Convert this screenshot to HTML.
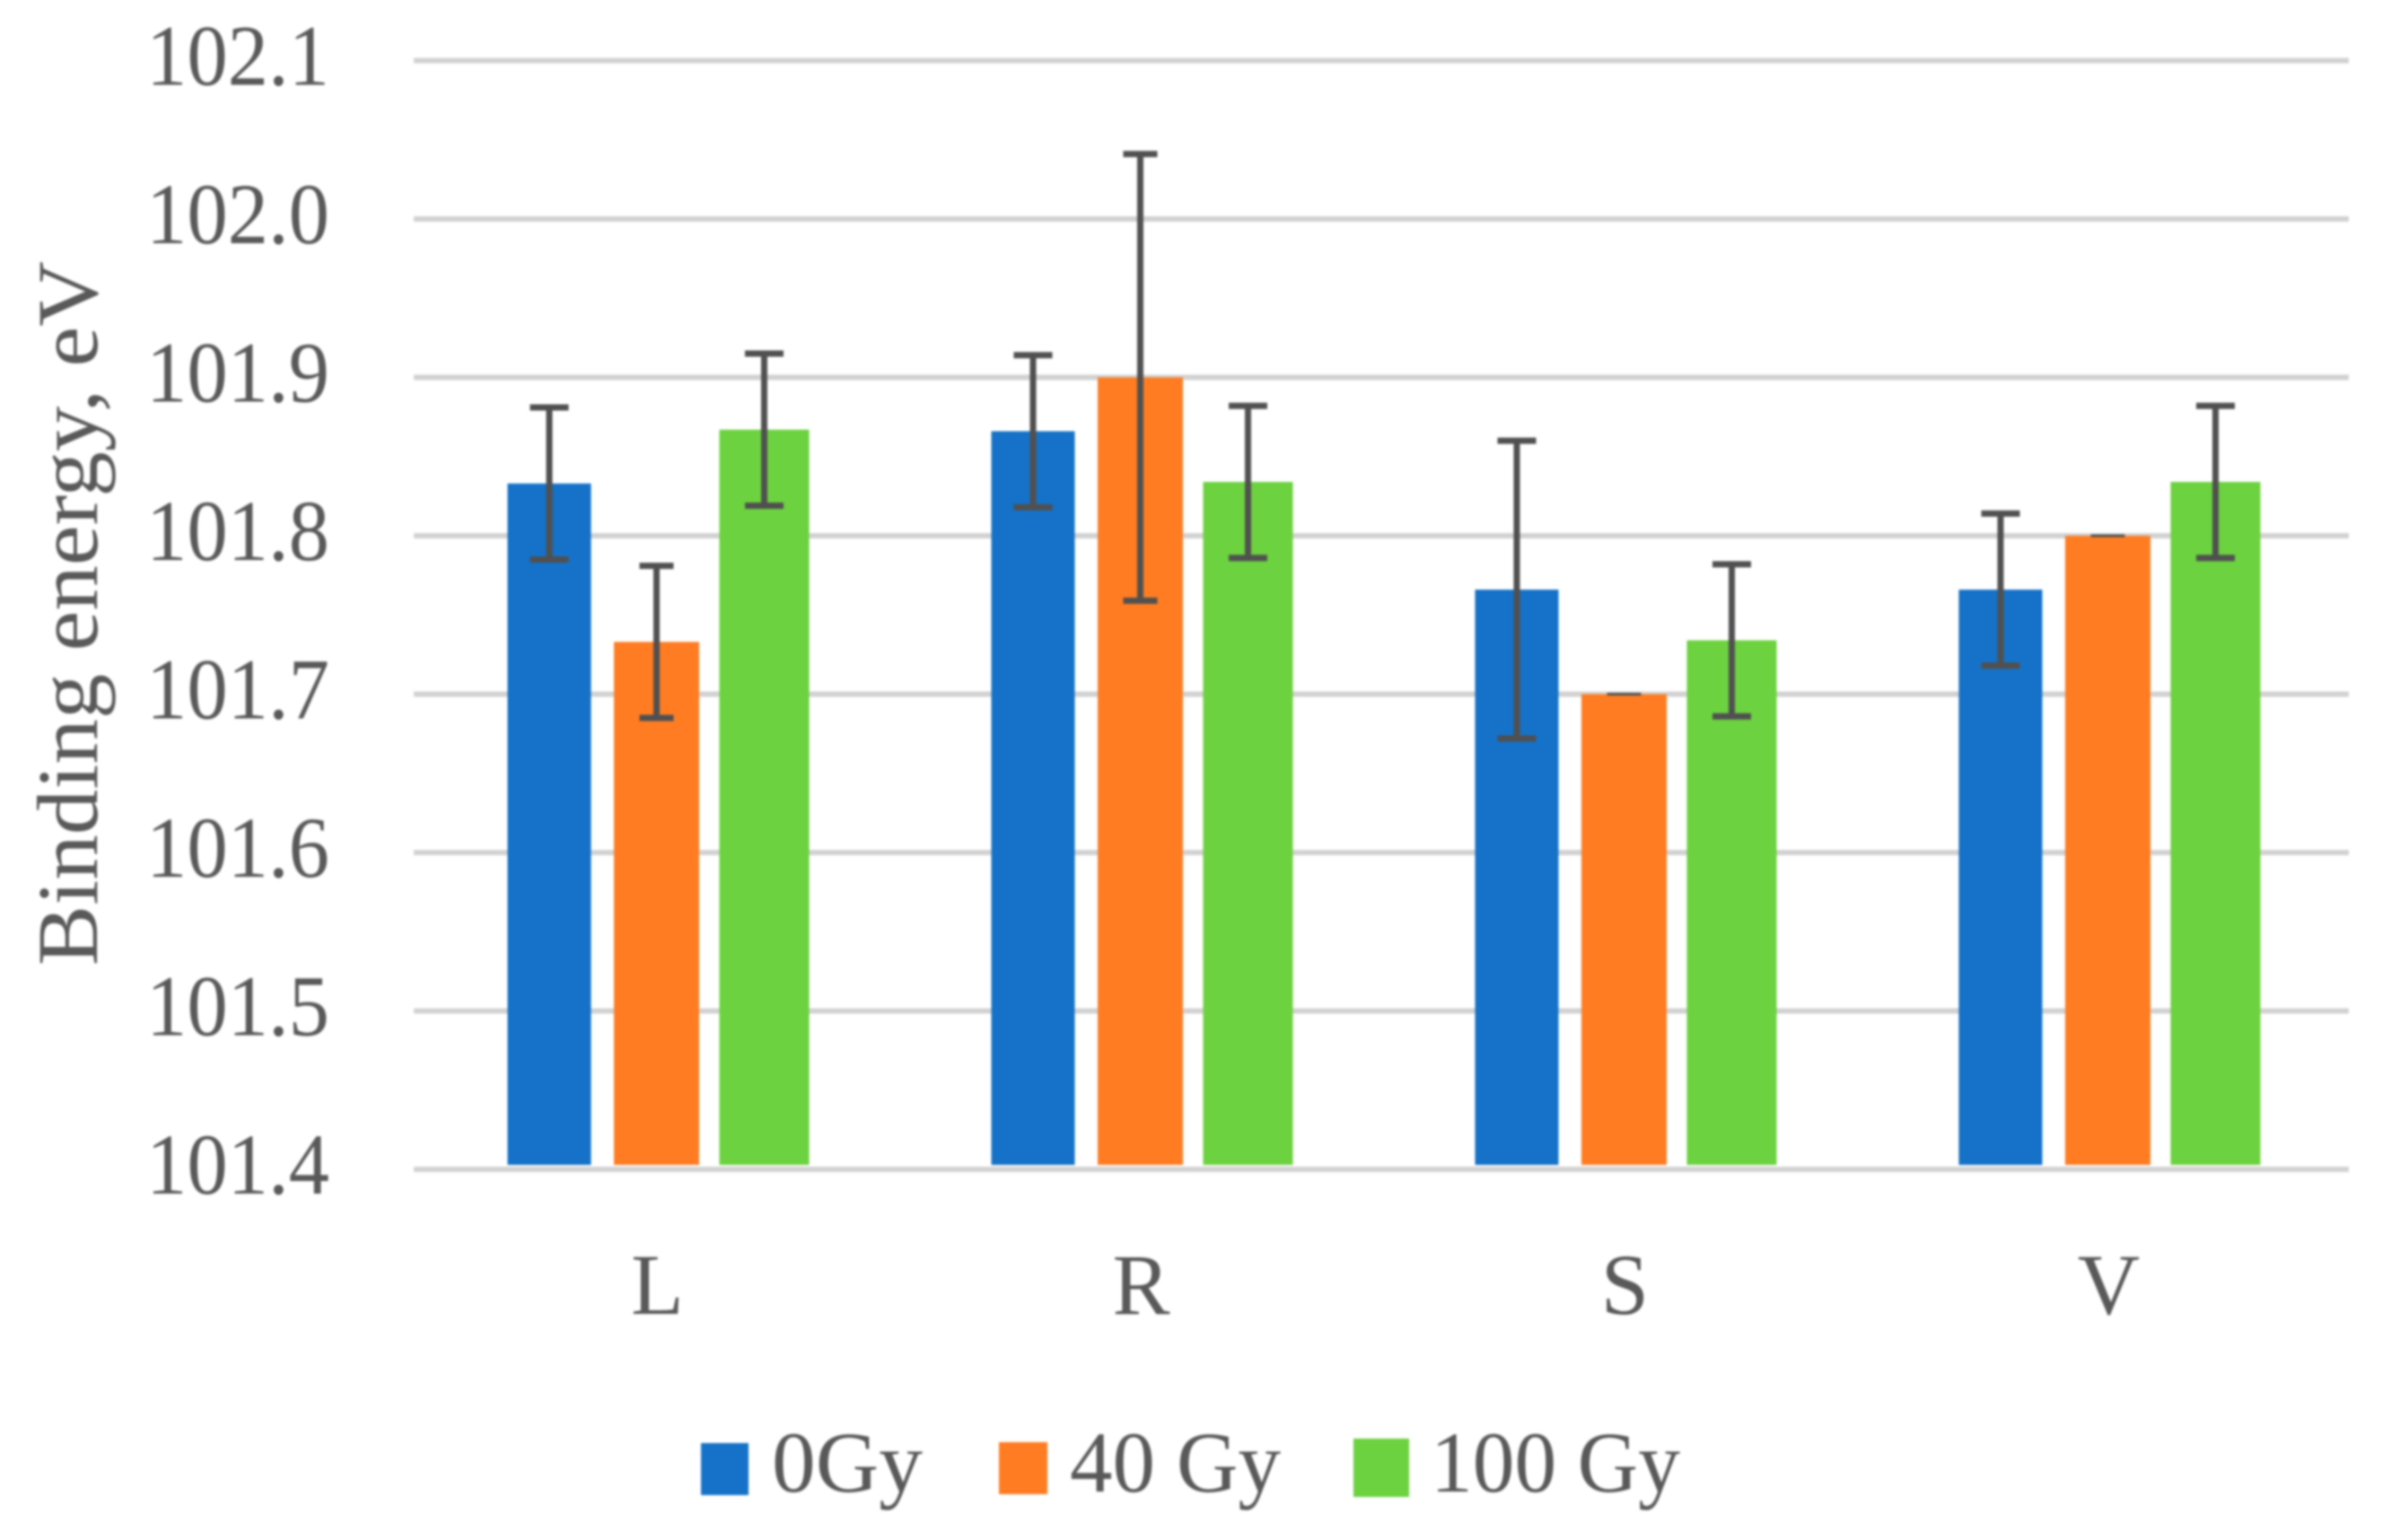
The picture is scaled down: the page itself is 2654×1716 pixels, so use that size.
<!DOCTYPE html>
<html lang="en">
<head>
<meta charset="utf-8">
<title>Binding energy chart</title>
<style>
html,body{margin:0;padding:0;background:#fff;width:2654px;height:1716px;overflow:hidden}
svg{display:block;filter:blur(1.4px)}
text{font-family:"Liberation Serif",serif;fill:#595959}
</style>
</head>
<body>
<svg id="chart" xmlns="http://www.w3.org/2000/svg" width="2654" height="1716" viewBox="0 0 2654 1716">
<rect x="0" y="0" width="2654" height="1716" fill="#ffffff"/>
<text transform="translate(108,1076) rotate(-90)" font-size="96" textLength="785" lengthAdjust="spacingAndGlyphs">Binding energy, eV</text>
<g id="grid"></g>
<g id="yticks"></g>
<g id="bars"></g>
<g id="errs"></g>
<g id="xticks"></g>
<g>
<g>
<rect x="781" y="1608" width="53" height="58" fill="#1572c8"/>
<text x="860" y="1662" font-size="96" textLength="168" lengthAdjust="spacingAndGlyphs">0Gy</text>
</g>
<g>
<rect x="1113" y="1607" width="54" height="58" fill="#ff7c22"/>
<text x="1192" y="1662" font-size="96" textLength="235" lengthAdjust="spacingAndGlyphs">40 Gy</text>
</g>
<g>
<rect x="1508" y="1603" width="62" height="65" fill="#6cd240"/>
<text x="1594" y="1662" font-size="96" textLength="278" lengthAdjust="spacingAndGlyphs">100 Gy</text>
</g>
</g>
</svg>
<script>
const categories = ["L", "R", "S", "V"];
const tickValues = [101.4, 101.5, 101.6, 101.7, 101.8, 101.9, 102.0, 102.1];
const tickLabels = ["101.4", "101.5", "101.6", "101.7", "101.8", "101.9", "102.0", "102.1"];
const seriesNames = ["0Gy", "40 Gy", "100 Gy"];
const values0Gy = [101.833, 101.866, 101.766, 101.766];
const values40Gy = [101.733, 101.9, 101.7, 101.8];
const values100Gy = [101.867, 101.834, 101.734, 101.834];
const errors0Gy = [0.048, 0.048, 0.094, 0.048];
const errors40Gy = [0.048, 0.141, 0, 0];
const errors100Gy = [0.048, 0.048, 0.048, 0.048];

const NS = "http://www.w3.org/2000/svg";
const plotLeft = 461, plotRight = 2617;
const yBase = 1303, yPerUnit = 1765;
const barBottom = 1298;
const seriesStyle = [
  { fill: "#1572c8", width: 93, offset: -119.5, cap: 43 },
  { fill: "#ff7c22", width: 95, offset: 0, cap: 38 },
  { fill: "#6cd240", width: 100, offset: 120, cap: 43 }
];
const seriesValues = [values0Gy, values40Gy, values100Gy];
const seriesErrors = [errors0Gy, errors40Gy, errors100Gy];

function yScale(v) { return yBase - (v - tickValues[0]) * yPerUnit; }
function xScale(i) { return plotLeft + (plotRight - plotLeft) * (i + 0.5) / categories.length + 1; }
function make(tag, attrs) {
  const el = document.createElementNS(NS, tag);
  for (const k in attrs) el.setAttribute(k, attrs[k]);
  return el;
}

const gGrid = document.getElementById("grid");
const gY = document.getElementById("yticks");
tickValues.forEach(function (v, i) {
  const line = make("line", { x1: plotLeft, x2: plotRight, y1: yScale(v), y2: yScale(v), stroke: "#d2d2d2", "stroke-width": 6 });
  
  
  gGrid.appendChild(line);
  const t = make("text", { x: 163, y: yScale(v) + 27, "font-size": 96, textLength: 204, lengthAdjust: "spacingAndGlyphs" });
  
  
  t.textContent = tickLabels[i];
  gY.appendChild(t);
});

const gBars = document.getElementById("bars");
const gErrs = document.getElementById("errs");
const gX = document.getElementById("xticks");
categories.forEach(function (cat, c) {
  const cx = xScale(c);
  seriesStyle.forEach(function (s, k) {
    const v = seriesValues[k][c];
    const e = seriesErrors[k][c];
    const top = yScale(v);
    const center = cx + s.offset;
    const bar = make("rect", { x: center - s.width / 2, y: top, width: s.width, height: barBottom - top, fill: s.fill });
    
    
    gBars.appendChild(bar);

    const hi = yScale(v + e), lo = yScale(v - e);
    const stem = make("line", { x1: center, x2: center, y1: hi, y2: lo, stroke: "#505050", "stroke-width": 7 });
    
    
    gErrs.appendChild(stem);
    const capHi = make("line", { x1: center - s.cap / 2, x2: center + s.cap / 2, y1: hi, y2: hi, stroke: "#505050", "stroke-width": e === 0 ? 3 : 7 });
    
    
    gErrs.appendChild(capHi);
    const capLo = make("line", { x1: center - s.cap / 2, x2: center + s.cap / 2, y1: lo, y2: lo, stroke: "#505050", "stroke-width": e === 0 ? 3 : 7 });
    
    
    gErrs.appendChild(capLo);
  });
  const lab = make("text", { x: cx + 1, y: 1464, "font-size": 96, "text-anchor": "middle" });
  
  
  lab.textContent = cat;
  gX.appendChild(lab);
});
</script>
</body>
</html>
